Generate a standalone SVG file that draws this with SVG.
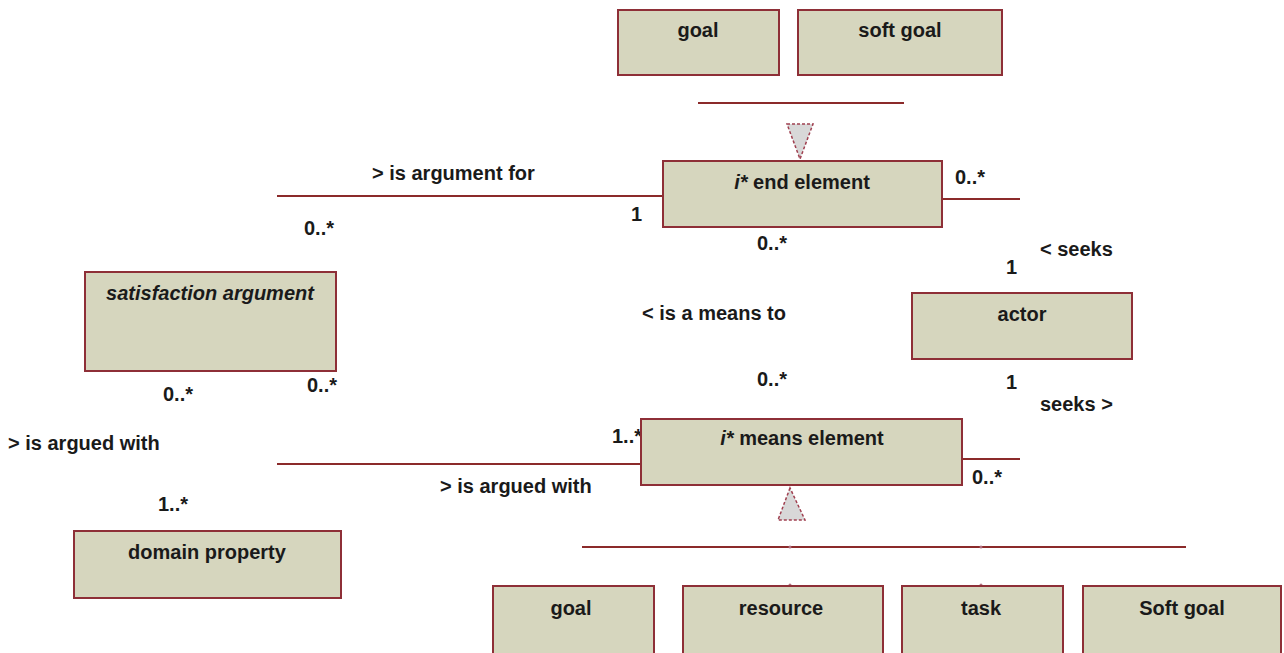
<svg xmlns="http://www.w3.org/2000/svg" width="1284" height="653" viewBox="0 0 1284 653">
<style>
.box{fill:#d6d6be;stroke:#8e2f37;stroke-width:2}
.ln{stroke:#8b2a2a;stroke-width:2;fill:none}
.tri{fill:#d8d8d8;stroke:#a04050;stroke-width:1.5;stroke-dasharray:3 2}
.dot{fill:#b07080}
text{font-family:"Liberation Sans",Arial,sans-serif;font-size:20px;font-weight:bold;fill:#1a1a1a}
.c{text-anchor:middle}
.it{font-style:italic}
</style>
<rect width="1284" height="653" fill="#ffffff"/>
<g id="connectors">
<line class="ln" x1="698" y1="103" x2="904" y2="103"/>
<polygon class="tri" points="787,124 813,124 800,159"/>
<line class="ln" x1="277" y1="196" x2="663" y2="196"/>
<line class="ln" x1="942" y1="199" x2="1020" y2="199"/>
<line class="ln" x1="277" y1="464" x2="641" y2="464"/>
<line class="ln" x1="962" y1="459" x2="1020" y2="459"/>
<polygon class="tri" points="790,488 778,520 805,520"/>
<line class="ln" x1="582" y1="547" x2="1186" y2="547"/>
<circle class="dot" cx="790" cy="547" r="1.5"/>
<circle class="dot" cx="981" cy="547" r="1.5"/>
<circle class="dot" cx="790" cy="585" r="1.5"/>
<circle class="dot" cx="981" cy="585" r="1.5"/>
</g>
<g id="labels">
<text x="372" y="180">&gt; is argument for</text>
<text x="955" y="184">0..*</text>
<text x="631" y="221">1</text>
<text x="304" y="235">0..*</text>
<text x="757" y="250">0..*</text>
<text x="1040" y="256">&lt; seeks</text>
<text x="1006" y="274">1</text>
<text x="642" y="320">&lt; is a means to</text>
<text x="757" y="386">0..*</text>
<text x="1006" y="389">1</text>
<text x="1040" y="411">seeks &gt;</text>
<text x="163" y="401">0..*</text>
<text x="307" y="392">0..*</text>
<text x="8" y="450">&gt; is argued with</text>
<text x="612" y="443">1..*</text>
<text x="440" y="493">&gt; is argued with</text>
<text x="972" y="484">0..*</text>
<text x="158" y="511">1..*</text>
</g>
<g id="goal-top"><rect class="box" x="618" y="10" width="161" height="65"/><text class="c" x="698" y="37">goal</text></g>
<g id="softgoal-top"><rect class="box" x="798" y="10" width="204" height="65"/><text class="c" x="900" y="37">soft goal</text></g>
<g id="end-element"><rect class="box" x="663" y="161" width="279" height="66"/><text class="c" x="802" y="189"><tspan class="it">i*</tspan> end element</text></g>
<g id="actor"><rect class="box" x="912" y="293" width="220" height="66"/><text class="c" x="1022" y="321">actor</text></g>
<g id="satisfaction-argument"><rect class="box" x="85" y="272" width="251" height="99"/><text class="c it" x="210" y="300">satisfaction argument</text></g>
<g id="means-element"><rect class="box" x="641" y="419" width="321" height="66"/><text class="c" x="802" y="445"><tspan class="it">i*</tspan> means element</text></g>
<g id="domain-property"><rect class="box" x="74" y="531" width="267" height="67"/><text class="c" x="207" y="559">domain property</text></g>
<g id="goal-bottom"><rect class="box" x="493" y="586" width="161" height="68"/><text class="c" x="571" y="615">goal</text></g>
<g id="resource"><rect class="box" x="683" y="586" width="200" height="68"/><text class="c" x="781" y="615">resource</text></g>
<g id="task"><rect class="box" x="902" y="586" width="161" height="68"/><text class="c" x="981" y="615">task</text></g>
<g id="softgoal-bottom"><rect class="box" x="1083" y="586" width="198" height="68"/><text class="c" x="1182" y="615">Soft goal</text></g>
</svg>
